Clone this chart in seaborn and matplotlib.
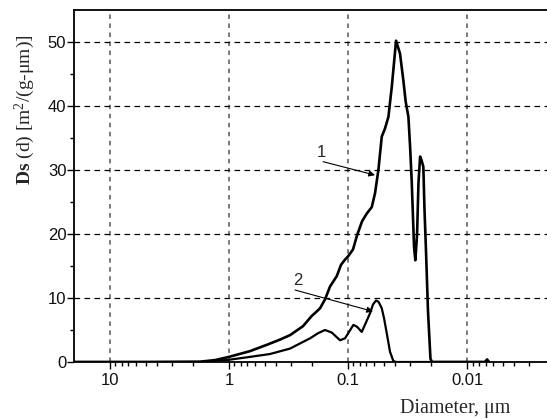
import matplotlib
matplotlib.use("Agg")
import matplotlib.pyplot as plt
from matplotlib.ticker import FixedLocator, NullFormatter, FixedFormatter
import seaborn as sns
import pandas as pd

# ---- data ----
d1 = [20, 4.6, 1.75, 1.31, 1.0, 0.666, 0.479, 0.373, 0.307, 0.239, 0.2018, 0.1832,
      0.1718, 0.156, 0.1417, 0.1245, 0.1145, 0.106, 0.1, 0.0908, 0.084, 0.0762,
      0.0696, 0.0632, 0.0593, 0.0556, 0.0521, 0.0489, 0.0458, 0.0429, 0.0395,
      0.0366, 0.0343, 0.0328, 0.0311, 0.0301, 0.0292, 0.0286, 0.0279, 0.0272,
      0.0263, 0.0256, 0.0248, 0.0241, 0.0233, 0.0228, 0.0221, 0.0213, 0.0203,
      0.0197, 0.00706, 0.00679, 0.00653]
y1 = [0, 0, 0.05, 0.3, 0.8, 1.7, 2.7, 3.5, 4.2, 5.6, 7.2, 7.9,
      8.4, 9.8, 11.8, 13.4, 15.2, 16.0, 16.5, 17.6, 19.8, 22.0,
      23.2, 24.2, 26.4, 30.0, 35.2, 36.5, 38.3, 43.0, 50.2,
      48.2, 44.0, 40.7, 38.3, 33.6, 28.4, 23.7, 18.0, 15.9,
      20.0, 28.0, 32.1, 31.5, 30.5, 24.0, 17.0, 8.0, 0.5,
      0, 0, 0.4, 0]

d2 = [20, 1.75, 1.0, 0.666, 0.452, 0.307, 0.2086, 0.1787, 0.156, 0.137, 0.1168,
      0.106, 0.0981, 0.0902, 0.084, 0.0767, 0.0706, 0.0654, 0.0617, 0.0582,
      0.0554, 0.0521, 0.0498, 0.0473, 0.0444, 0.0416, 0.0395, 0.00653]
y2 = [0, 0, 0.35, 0.8, 1.25, 2.1, 3.7, 4.5, 5.0, 4.6, 3.4,
      3.7, 4.7, 5.8, 5.5, 4.7, 6.2, 7.6, 9.0, 9.6,
      9.4, 8.4, 6.8, 4.5, 1.6, 0.15, 0, 0]

x_major = [10, 1, 0.1, 0.01]
x_major_labels = ["10", "1", "0.1", "0.01"]
y_major = [0, 10, 20, 30, 40, 50]
y_minor = [5, 15, 25, 35, 45]
curve_labels = ["1", "2"]

sns.set_style("white")
plt.rcParams['font.family'] = ['Liberation Sans', 'DejaVu Sans']
plt.rcParams['mathtext.fontset'] = 'custom'
plt.rcParams['mathtext.rm'] = 'Liberation Serif'
plt.rcParams['mathtext.bf'] = 'Liberation Serif:bold'
plt.rcParams['mathtext.it'] = 'Liberation Serif:italic'

fig = plt.figure(figsize=(5.47, 4.19), dpi=100)
ax = fig.add_axes([74/547, 1-362/419, 1-74/547, (362-10)/419])

df1 = pd.DataFrame({"d": d1, "v": y1})
df2 = pd.DataFrame({"d": d2, "v": y2})
sns.lineplot(data=df1, x="d", y="v", ax=ax, sort=False, color="black", lw=1.9, zorder=3)
sns.lineplot(data=df2, x="d", y="v", ax=ax, sort=False, color="black", lw=1.6, zorder=3)

ax.set_xscale("log")
ax.set_xlim(20.07, 0.00213)
ax.set_ylim(0, 55)

ax.xaxis.set_major_locator(FixedLocator(x_major))
ax.xaxis.set_major_formatter(FixedFormatter(x_major_labels))
minors = []
for dec in [1, 0.1, 0.01, 0.001]:
    for s in range(2, 10):
        minors.append(dec * s)
ax.xaxis.set_minor_locator(FixedLocator(minors))
ax.xaxis.set_minor_formatter(NullFormatter())
ax.yaxis.set_major_locator(FixedLocator(y_major))
ax.yaxis.set_minor_locator(FixedLocator(y_minor))

ax.tick_params(axis="both", which="major", direction="out", length=5, width=1.0,
               labelsize=12, color="black", labelcolor="#111111")
ax.tick_params(axis="both", which="minor", direction="out", length=3, width=1.0, color="black")
ax.tick_params(axis="y", which="major", pad=0.5)
ax.tick_params(axis="x", which="major", pad=3)
ax.tick_params(bottom=True, left=True, top=False, right=False, which="both")

for xv in x_major:
    ax.axvline(xv, color="#707070", lw=1.3, linestyle=(0, (2.5, 2.5)), zorder=1)
for yv in y_major[1:]:
    ax.axhline(yv, color="black", lw=0.9, linestyle=(0, (4.5, 3.5)), zorder=1)

for side in ["left", "top", "bottom"]:
    ax.spines[side].set_visible(True)
    ax.spines[side].set_color("black")
    ax.spines[side].set_linewidth(1.3)
ax.spines["right"].set_visible(False)

ax.set_xlabel("")
ax.set_ylabel("")

fig.text(25/547, 1-110/419, r"$\mathbf{Ds}$ (d) [m$^2$/(g-μm)]", rotation=90,
         ha="center", va="center", fontsize=14, family=["Liberation Serif", "DejaVu Serif"])
fig.text(510/547, 1-413/419, "Diameter, μm", ha="right", va="baseline",
         fontsize=14.5, family=["Liberation Serif", "DejaVu Serif"])

ax.annotate("", xy=(0.0593, 29.2), xytext=(0.162, 31.3),
            arrowprops=dict(arrowstyle="-|>", color="black", lw=0.8,
                            mutation_scale=9, shrinkA=0, shrinkB=0), zorder=4)
ax.text(0.166, 32.7, curve_labels[0], ha="center", va="center", fontsize=12)
ax.annotate("", xy=(0.0617, 7.9), xytext=(0.279, 11.25),
            arrowprops=dict(arrowstyle="-|>", color="black", lw=0.8,
                            mutation_scale=9, shrinkA=0, shrinkB=0), zorder=4)
ax.text(0.263, 12.8, curve_labels[1], ha="center", va="center", fontsize=12)

fig.savefig("out.png", dpi=100)
